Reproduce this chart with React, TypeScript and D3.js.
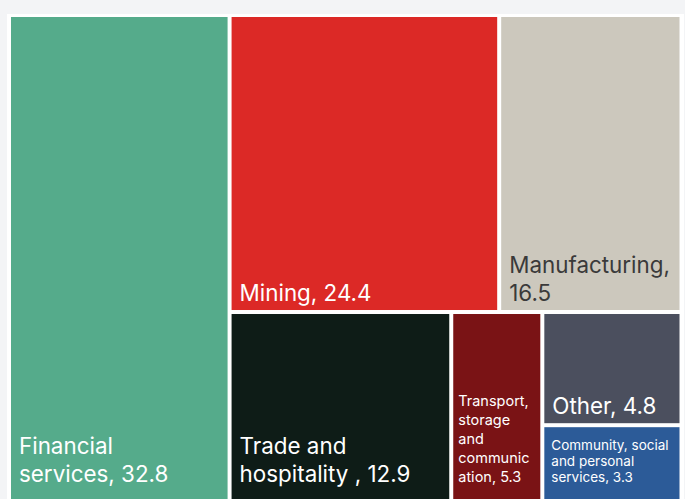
import React from 'react'
import * as d3 from 'd3'

const sectors = [
    'Financial services',
    'Mining',
    'Manufacturing',
    'Trade and hospitality ',
    'Transport, storage and communication',
    'Other',
    'Community, social and personal services',
]
const values = [32.8, 24.4, 16.5, 12.9, 5.3, 4.8, 3.3]
const colors = ['#55ab8b', '#dc2926', '#ccc8bd', '#0e1c17', '#7a1315', '#4b4f5e', '#2c5b98']
const labelColors = ['#fff', '#fff', '#3a3a3a', '#fff', '#fff', '#fff', '#fff']
// how the label wraps inside each tile
const labelLines = [
    ['Financial', 'services, 32.8'],
    ['Mining, 24.4'],
    ['Manufacturing,', '16.5'],
    ['Trade and', 'hospitality , 12.9'],
    ['Transport,', 'storage', 'and', 'communic', 'ation, 5.3'],
    ['Other, 4.8'],
    ['Community, social', 'and personal', 'services, 3.3'],
]
const labelSizes = [22.4, 22.4, 22.4, 22.4, 14.5, 22.4, 13.5]
// nesting of the tiles (indices into the arrays above)
const nesting: any[] = [0, [[1, 2], [3, 4, [5, 6]]]]

type Node = { index?: number; children?: Node[] }

const build = (n: any): Node => (Array.isArray(n) ? { children: n.map(build) } : { index: n })

const width = 685
const height = 499

export default function App() {
    const root = d3.hierarchy<Node>(build(nesting)).sum(d => (d.index !== undefined ? values[d.index] : 0))

    d3.treemap<Node>()
        .tile(d3.treemapSliceDice)
        .size([668.5, 484])
        .paddingInner(4)(root)

    const leaves = root.leaves() as d3.HierarchyRectangularNode<Node>[]

    return (
        <svg width={width} height={height} style={{ position: 'fixed', left: 0, top: 0, display: 'block' }}>
            <rect width={width} height={height} fill="#f3f4f6" />
            <rect x={7} y={14} width={677} height={height} fill="#ffffff" />
            <g transform="translate(11,17)">
                {leaves.map(d => {
                    const i = d.data.index as number
                    const fs = labelSizes[i]
                    const lh = fs > 20 ? 28 : fs > 14 ? 19 : 16
                    const padX = fs > 20 ? 8 : fs > 14 ? 5 : 7
                    const lines = labelLines[i]
                    const bottom = Math.min(d.y1, height - 17 - 8) - 9
                    return (
                        <g key={i}>
                            <rect x={d.x0} y={d.y0} width={d.x1 - d.x0} height={d.y1 - d.y0} fill={colors[i]}>
                                <title>{`${sectors[i]}, ${values[i]}`}</title>
                            </rect>
                            <text
                                fontFamily="Inter, 'Noto Sans', sans-serif"
                                fontSize={fs}
                                fill={labelColors[i]}
                                style={{ pointerEvents: 'none' }}
                            >
                                {lines.map((t, k) => (
                                    <tspan key={k} x={d.x0 + padX} y={bottom - (lines.length - 1 - k) * lh}>
                                        {t}
                                    </tspan>
                                ))}
                            </text>
                        </g>
                    )
                })}
            </g>
        </svg>
    )
}
